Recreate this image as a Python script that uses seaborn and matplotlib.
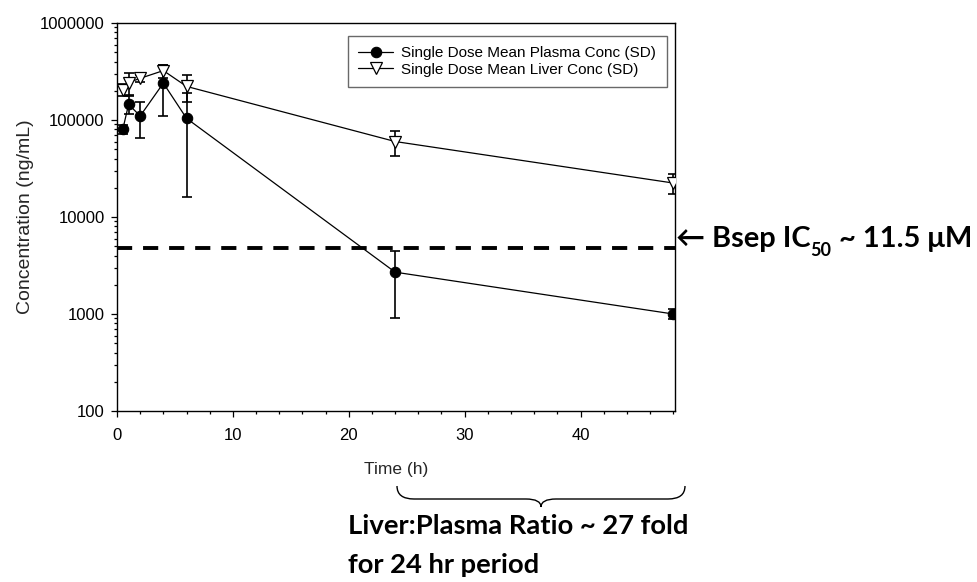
import numpy as np
import pandas as pd
import matplotlib
matplotlib.use("Agg")
import matplotlib.pyplot as plt
import seaborn as sns
from matplotlib.path import Path
from matplotlib.patches import PathPatch
from matplotlib.ticker import FixedLocator, LogLocator, NullFormatter, FuncFormatter, MultipleLocator

# ---------------- data ----------------
time_h = [0.5, 1, 2, 4, 6, 24, 48]
plasma_mean = [80000, 145000, 110000, 240000, 104000, 2700, 1000]
plasma_sd = [8000, 30000, 45000, 130000, 88000, 1800, 120]
liver_mean = [205000, 243000, 269000, 323000, 222000, 60000, 22400]
liver_sd = [30000, 60000, 25000, 50000, 70000, 17000, 5200]
bsep_ic50_ngml = 4800
x_ticks = [0, 10, 20, 30, 40]
y_ticks = [100, 1000, 10000, 100000, 1000000]
series_labels = ["Single Dose Mean Plasma Conc (SD)", "Single Dose Mean Liver Conc (SD)"]
x_label = "Time (h)"
y_label = "Concentration (ng/mL)"
bsep_text = ["\u2190 Bsep IC", "50", " ~ 11.5 \u03bcM"]
ratio_lines = ["Liver:Plasma Ratio ~ 27 fold", "for 24 hr period"]

# ---------------- style ----------------
sns.set_theme(style="ticks")
plt.rcParams["font.family"] = ["Liberation Sans", "DejaVu Sans"]
plt.rcParams["text.color"] = "black"
plt.rcParams["axes.edgecolor"] = "black"
plt.rcParams["xtick.color"] = "black"
plt.rcParams["ytick.color"] = "black"

W, H = 977, 582
fig = plt.figure(figsize=(W / 100, H / 100), dpi=100)
ax = fig.add_axes([117 / W, 1 - 411 / H, 558 / W, 388 / H])

df = pd.DataFrame({"time": time_h, "plasma": plasma_mean, "liver": liver_mean})

# error bars first (below markers)
ax.errorbar(time_h, plasma_mean, yerr=plasma_sd, fmt="none", ecolor="black",
            elinewidth=1.2, capsize=3.8, capthick=1.2, zorder=2)
ax.errorbar(time_h, liver_mean, yerr=liver_sd, fmt="none", ecolor="black",
            elinewidth=1.2, capsize=3.8, capthick=1.2, zorder=2)

sns.lineplot(data=df, x="time", y="plasma", ax=ax, color="black", linewidth=0.9,
             marker="o", markersize=7.5, markerfacecolor="black",
             markeredgecolor="black", markeredgewidth=0.8,
             label=series_labels[0], zorder=3)
sns.lineplot(data=df, x="time", y="liver", ax=ax, color="black", linewidth=0.9,
             marker="v", markersize=8.5, markerfacecolor="white",
             markeredgecolor="black", markeredgewidth=0.9,
             label=series_labels[1], zorder=3)

ax.axhline(bsep_ic50_ngml, color="black", linewidth=2.8,
           linestyle=(0, (3.9, 2.8)), zorder=1)

ax.set_yscale("log")
ax.set_ylim(100, 1000000)
ax.set_xlim(0, 48.15)
ax.yaxis.set_major_locator(FixedLocator(y_ticks))
ax.yaxis.set_major_formatter(FuncFormatter(lambda v, p: f"{int(round(v))}"))
ax.yaxis.set_minor_locator(LogLocator(base=10, subs=np.arange(2, 10), numticks=20))
ax.yaxis.set_minor_formatter(NullFormatter())
ax.xaxis.set_major_locator(FixedLocator(x_ticks))
ax.xaxis.set_minor_locator(MultipleLocator(2))

ax.tick_params(which="both", direction="out", top=False, right=False, labelsize=12, width=0.9)
ax.tick_params(which="major", length=4)
ax.tick_params(which="minor", length=2.5)
ax.tick_params(axis="x", which="major", pad=8)
ax.tick_params(axis="y", which="major", pad=5)
for s in ax.spines.values():
    s.set_visible(True)
    s.set_linewidth(1.0)
    s.set_color("black")

ax.set_xlabel(x_label, fontsize=12.5, labelpad=14)
ax.set_ylabel(y_label, fontsize=14, labelpad=4)

leg = ax.legend(loc="upper right", bbox_to_anchor=(0.985, 0.967), borderaxespad=0,
                fontsize=11, frameon=True, fancybox=False, edgecolor="#444444",
                handlelength=2.3, handletextpad=0.5, labelspacing=0.15,
                borderpad=0.7)
leg.get_frame().set_linewidth(1.0)

# ---------------- annotations ----------------
renderer = fig.canvas.get_renderer()
bold_family = ["Lato", "DejaVu Sans"]


def fx(px):
    return px / W


def fy(py):
    return 1 - py / H


def draw_bsep(size, x0_px, base_px):
    arts = []
    x = x0_px
    for i, piece in enumerate(bsep_text):
        if i == 1:
            t = fig.text(fx(x), fy(base_px + 0.3 * size * 100 / 72), piece,
                         fontsize=size * 0.62, fontweight="bold",
                         family=bold_family, va="baseline", ha="left")
        else:
            t = fig.text(fx(x), fy(base_px), piece, fontsize=size,
                         fontweight="bold", family=bold_family,
                         va="baseline", ha="left")
        bb = t.get_window_extent(renderer)
        x = bb.x1
        arts.append(t)
    return arts, x - x0_px


arts, w = draw_bsep(20, 676, 247)
for a in arts:
    a.remove()
arts, w = draw_bsep(20 * 296 / w, 676, 247)

t1 = fig.text(fx(348), fy(534), ratio_lines[0], fontsize=20, fontweight="bold",
              family=bold_family, va="baseline", ha="left")
w1 = t1.get_window_extent(renderer).width
size2 = 20 * 340 / w1
t1.set_fontsize(size2)
fig.text(fx(348), fy(573), ratio_lines[1], fontsize=size2, fontweight="bold",
         family=bold_family, va="baseline", ha="left")

# curly brace under the 24-48 h span
verts = [(397, 486), (397, 499), (414, 499), (526, 499), (541, 499), (541, 507),
         (541, 499), (556, 499), (668, 499), (685, 499), (685, 486)]
codes = [Path.MOVETO, Path.CURVE3, Path.CURVE3, Path.LINETO, Path.CURVE3, Path.CURVE3,
         Path.CURVE3, Path.CURVE3, Path.LINETO, Path.CURVE3, Path.CURVE3]
brace = Path([(fx(a), fy(b)) for a, b in verts], codes)
fig.patches.append(PathPatch(brace, transform=fig.transFigure, fill=False,
                             edgecolor="black", linewidth=1.0))

fig.savefig("out.png", dpi=100)
